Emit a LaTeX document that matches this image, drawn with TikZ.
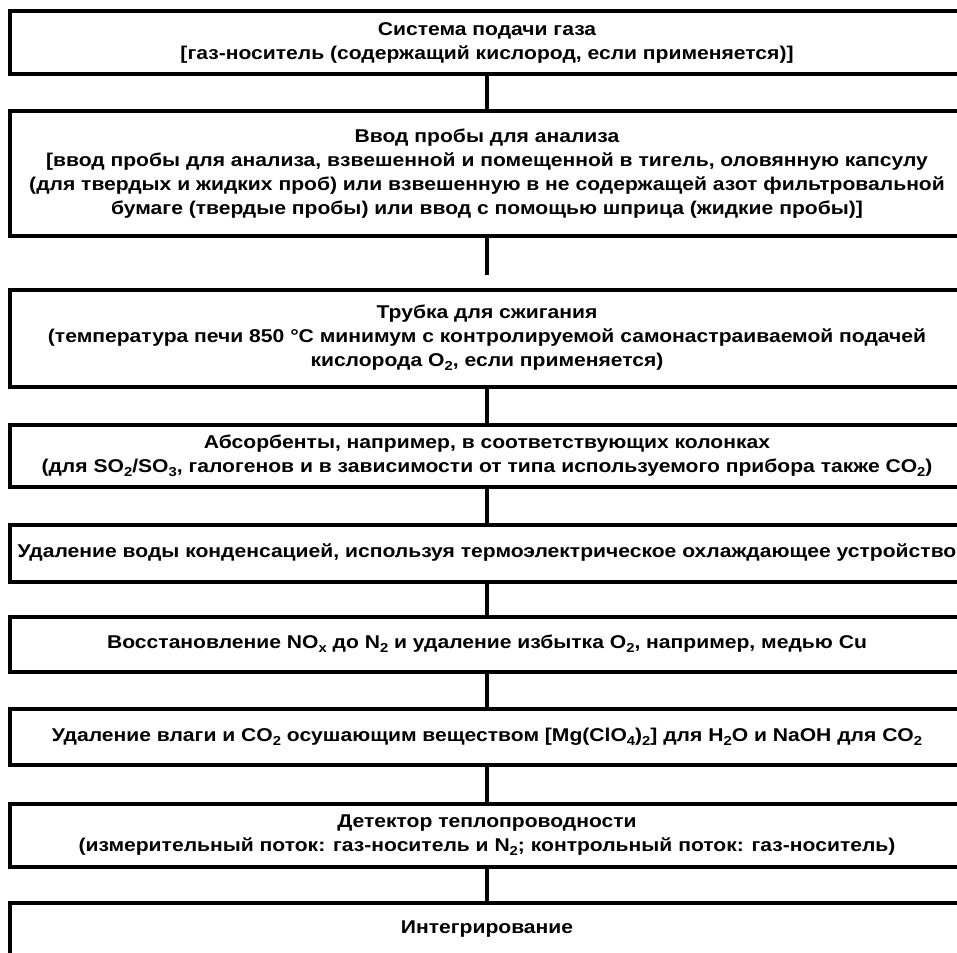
\documentclass[tikz,border=0pt]{standalone}
\usepackage{fontspec}
\setmainfont{Liberation Sans}[FakeStretch=1.14]
\usetikzlibrary{positioning}

\newcommand{\unten}[1]{\raisebox{-0.4ex}{\fontsize{13}{13}\selectfont #1}}

\begin{document}
\begin{tikzpicture}[x=1pt, y=-1pt, node distance=100pt, on grid,
    block/.style={draw, line width=4pt, minimum width=954pt, align=center,
        inner sep=0pt, font=\bfseries\fontsize{18.5}{24}\selectfont},
    every edge/.style={draw, line width=4pt}]
    \useasboundingbox (0,0) rectangle (957,952);
    \clip (0,0) rectangle (957,952);

    % Blöcke
    \node[block, minimum height=63pt] (gas) at (487,42.5)
        {Система подачи газа\\{[}газ-носитель (содержащий кислород, если применяется)]};
    \node[block, minimum height=124pt, below=131pt of gas] (probe)
        {Ввод пробы для анализа\\{[}ввод пробы для анализа, взвешенной и помещенной в тигель, оловянную капсулу\\(для твердых и жидких проб) или взвешенную в не содержащей азот фильтровальной\\бумаге (твердые пробы) или ввод с помощью шприца (жидкие пробы)]};
    \node[block, minimum height=97pt, below=164.5pt of probe] (rohr)
        {Трубка для сжигания\\(температура печи 850 °C минимум с контролируемой самонастраиваемой подачей\\кислорода O\unten{2}, если применяется)};
    \node[block, minimum height=62pt, below=118pt of rohr] (absorb)
        {Абсорбенты, например, в соответствующих колонках\\(для SO\unten{2}/SO\unten{3}, галогенов и в зависимости от типа используемого прибора также CO\unten{2})};
    \node[block, minimum height=57pt, below=97pt of absorb] (wasser)
        {Удаление воды конденсацией, используя термоэлектрическое охлаждающее устройство};
    \node[block, minimum height=55pt, below=91pt of wasser] (reduk)
        {Восстановление NO\unten{x} до N\unten{2} и удаление избытка O\unten{2}, например, медью Cu};
    \node[block, minimum height=56.5pt, below=93pt of reduk] (trocken)
        {Удаление влаги и CO\unten{2} осушающим веществом [Mg(ClO\unten{4})\unten{2}] для H\unten{2}O и NaOH для CO\unten{2}};
    \node[block, minimum height=63pt, below=98pt of trocken] (detektor)
        {Детектор теплопроводности\\(измерительный поток: газ-носитель и N\unten{2}; контрольный поток: газ-носитель)};
    \node[block, minimum height=51.5pt, below=94pt of detektor] (integ)
        {Интегрирование};

    \coordinate (ende) at ([yshift=-37pt]probe.south);

    % Verbindungen
    \path
    (gas) edge (probe)
    (probe.south) edge (ende)
    (rohr) edge (absorb)
    (absorb) edge (wasser)
    (wasser) edge (reduk)
    (reduk) edge (trocken)
    (trocken) edge (detektor)
    (detektor) edge (integ);
\end{tikzpicture}
\end{document}
